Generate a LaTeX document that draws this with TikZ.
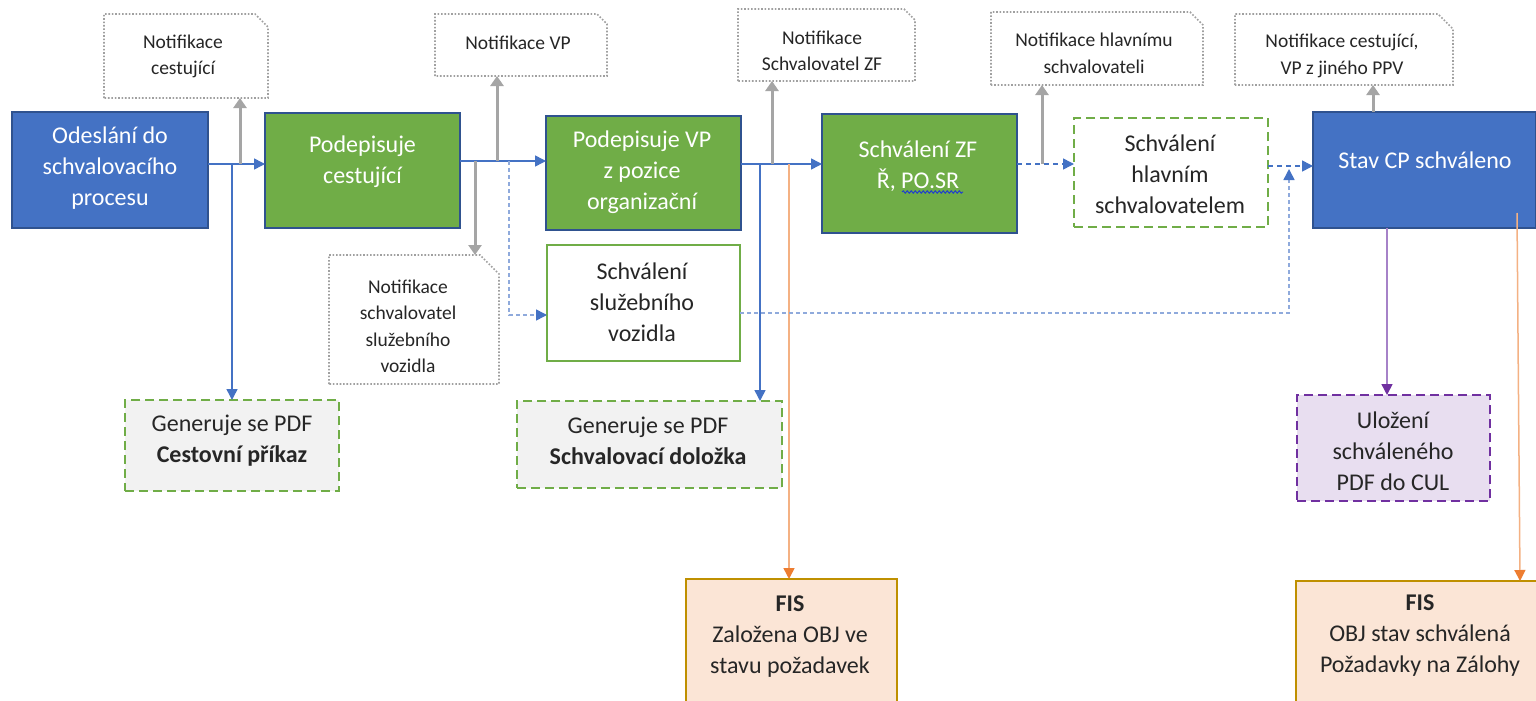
\documentclass[tikz,border=0pt]{standalone}
\usepackage{fontspec}
\setmainfont{Carlito}
\usetikzlibrary{arrows.meta,decorations.pathmorphing}
\definecolor{cblue}{HTML}{4472C4}
\definecolor{cbord}{HTML}{2F528F}
\definecolor{cgreen}{HTML}{70AD47}
\definecolor{cgray}{HTML}{A5A5A5}
\definecolor{cdot}{HTML}{A0A0A0}
\definecolor{corange}{HTML}{ED7D31}
\definecolor{clorange}{HTML}{F4B183}
\definecolor{cgold}{HTML}{BF9000}
\definecolor{cpeach}{HTML}{FBE5D6}
\definecolor{clgray}{HTML}{F2F2F2}
\definecolor{cpurple}{HTML}{7030A0}
\definecolor{clpurp}{HTML}{A682C8}
\definecolor{clpurple}{HTML}{E8DEF0}
\definecolor{clblue}{HTML}{8FAADC}
\definecolor{ctext}{HTML}{262626}
\definecolor{cwave}{HTML}{1F3FCC}
\newcommand\notebox[9]{%
  \node[notearea, minimum width=#4pt, minimum height=#5pt] (#1) at (#2,#3) {};
  \draw[noteline] (#1.south west) -- (#1.north west) -- ([xshift=-#6pt]#1.north east)
     -- ([yshift=-#6pt]#1.north east) -- (#1.south east) -- cycle;
  \node[notetxt] (#1-t) at (#7,#8) {#9};
}
\begin{document}
\begin{tikzpicture}[x=1pt,y=-1pt,
  box/.style={rectangle, inner sep=0pt, outer sep=0pt, line width=2pt},
  solidblue/.style={box, fill=cblue, draw=cbord},
  solidgreen/.style={box, fill=cgreen, draw=cbord},
  greenframe/.style={box, fill=white, draw=cgreen},
  greendash/.style={box, fill=white, draw=cgreen, dash pattern=on 9pt off 5pt},
  gendash/.style={box, fill=clgray, draw=cgreen, dash pattern=on 9pt off 5pt},
  purpledash/.style={box, fill=clpurple, draw=cpurple, dash pattern=on 9pt off 5pt},
  fisbox/.style={box, fill=cpeach, draw=cgold},
  maintxt/.style={align=center, inner sep=0pt, font=\fontsize{24}{31}\selectfont, text=ctext},
  whitetxt/.style={maintxt, text=white},
  notetxt/.style={align=center, inner sep=0pt, font=\fontsize{19.5}{26.5}\selectfont, text=ctext},
  notearea/.style={rectangle, inner sep=0pt, outer sep=0pt},
  noteline/.style={draw=cdot, line width=1.6pt, dash pattern=on 1.6pt off 1.8pt},
  bluearr/.style={draw=cblue, line width=1.5pt, -{Triangle[length=11pt,width=11pt,color=cblue]}},
  dasharr/.style={bluearr, dash pattern=on 5pt off 4pt},
  ldasharr/.style={draw=clblue, line width=1.5pt, dash pattern=on 4pt off 3pt, -{Triangle[length=11pt,width=11pt,color=cblue]}},
  grayarr/.style={draw=cgray, line width=3pt, -{Triangle[length=10pt,width=13pt,color=cgray]}},
  orangearr/.style={draw=clorange, line width=1.5pt, -{Triangle[length=11pt,width=11pt,color=corange]}},
  purplearr/.style={draw=clpurp, line width=1.5pt, -{Triangle[length=11pt,width=11pt,color=cpurple]}},
]
\useasboundingbox[fill=white] (0,0) rectangle (1536,701);

% main boxes
\node[solidblue, minimum width=196pt, minimum height=116pt] (A) at (110,170) {};
\node[whitetxt] (At) at (110,168.5) {Odeslání do\\schvalovacího\\procesu};
\node[solidgreen, minimum width=195pt, minimum height=115pt] (B) at (362.5,170.5) {};
\node[whitetxt] (Bt) at (362.5,162) {Podepisuje\\cestující};
\node[solidgreen, minimum width=195pt, minimum height=114pt] (C) at (643.5,173) {};
\node[whitetxt] (Ct) at (642,172.5) {Podepisuje VP\\z pozice\\organizační};
\node[greenframe, minimum width=193pt, minimum height=116pt] (D) at (643.5,303) {};
\node[maintxt] (Dt) at (642,302) {Schválení\\služebního\\vozidla};
\node[solidgreen, minimum width=195pt, minimum height=119pt] (E) at (919.5,173.5) {};
\node[whitetxt] (Et) at (918,166) {Schválení ZF\\Ř, PO.SR};
\draw[cwave, line width=1pt, decorate, decoration={snake, amplitude=1.2pt, segment length=4pt}] (902,192) -- (963,192);
\node[greendash, minimum width=194pt, minimum height=109pt] (F) at (1171,172.5) {};
\node[maintxt] (Ft) at (1170,174) {Schválení\\hlavním\\schvalovatelem};
\node[solidblue, minimum width=223pt, minimum height=116pt] (G) at (1424.5,170) {};
\node[whitetxt] (Gt) at (1425,160) {Stav CP schváleno};
\node[purpledash, minimum width=193pt, minimum height=106pt] (H) at (1393.5,448) {};
\node[maintxt] (Ht) at (1393,451.7) {Uložení\\schváleného\\PDF do CUL};
\node[gendash, minimum width=214pt, minimum height=91pt] (gen1) at (232,445.5) {};
\node[maintxt] (gen1t) at (232,440.5) {Generuje se PDF\\\textbf{Cestovní příkaz}};
\node[gendash, minimum width=265pt, minimum height=87pt] (gen2) at (649.5,444.5) {};
\node[maintxt] (gen2t) at (648,440.5) {Generuje se PDF\\\textbf{Schvalovací doložka}};
\node[fisbox, minimum width=211pt, minimum height=151pt] (FIS1) at (791.5,654.5) {};
\node[maintxt] (FIS1t) at (790,636.7) {\textbf{FIS}\\Založena OBJ ve\\stavu požadavek};
\node[fisbox, minimum width=248pt, minimum height=149pt] (FIS2) at (1420,655.5) {};
\node[maintxt] (FIS2t) at (1420,636) {\textbf{FIS}\\OBJ stav schválená\\Požadavky na Zálohy};

% notifications
\notebox{N1}{186}{56}{164}{84}{13}{183}{56.5}{Notifikace\\cestující}
\notebox{N2}{521}{45}{172}{62}{10}{518}{43}{Notifikace VP}
\notebox{N3}{414}{319.5}{170}{129}{19}{408}{326.5}{Notifikace\\schvalovatel\\služebního\\vozidla}
\notebox{N4}{826.5}{45}{177}{72}{11}{822}{51}{Notifikace\\Schvalovatel ZF}
\notebox{N5}{1097}{48.5}{212}{73}{13}{1094}{53.5}{Notifikace hlavnímu\\schvalovateli}
\notebox{N6}{1344}{49.5}{218}{71}{15}{1342}{56}{Notifikace cestující,\\VP z jiného PPV}

% connectors
\coordinate (jA1) at (232,164);
\coordinate (jA2) at (240,164);
\draw[bluearr] (A.east |- jA1) -- (B.west |- jA1);
\draw[grayarr] (jA2) -- (N1.south -| jA2);
\draw[bluearr] (jA1) -- (gen1.north -| jA1);

\coordinate (jB1) at (475,161);
\coordinate (jB2) at (497,161);
\coordinate (jB3) at (509,161);
\draw[bluearr] (B.east |- jB1) -- (C.west |- jB1);
\draw[grayarr] (jB1) -- (N3.north -| jB1);
\draw[grayarr] (jB2) -- (N2.south -| jB2);
\draw[ldasharr] (jB3) |- ([yshift=-12pt]D.west);

\coordinate (jC1) at (760,164);
\coordinate (jC2) at (772,164);
\coordinate (jC3) at (789,164);
\draw[bluearr] (C.east |- jC1) -- (E.west |- jC1);
\draw[bluearr] (jC1) -- (gen2.north -| jC1);
\draw[grayarr] (jC2) -- (N4.south -| jC2);
\draw[orangearr] (jC3) -- (FIS1.north -| jC3);

\coordinate (jE) at (1042,164);
\draw[dasharr] (E.east |- jE) -- (F.west |- jE);
\draw[grayarr] (jE) -- (N5.south -| jE);

\coordinate (jF) at (1289,166);
\coordinate (jF2) at (1289,169);
\draw[dasharr] (F.east |- jF) -- (G.west |- jF);
\draw[ldasharr] ([yshift=-10pt]D.east) -| (jF2);

\coordinate (jG) at (1373,112);
\draw[grayarr] (G.north -| jG) -- (N6.south -| jG);
\coordinate (jP) at (1387,300);
\draw[purplearr] (G.south -| jP) -- (H.north -| jP);
\coordinate (oG) at (1517,213);
\coordinate (oF) at (1520,600);
\draw[orangearr] (oG) -- (FIS2.north -| oF);
\end{tikzpicture}
\end{document}
